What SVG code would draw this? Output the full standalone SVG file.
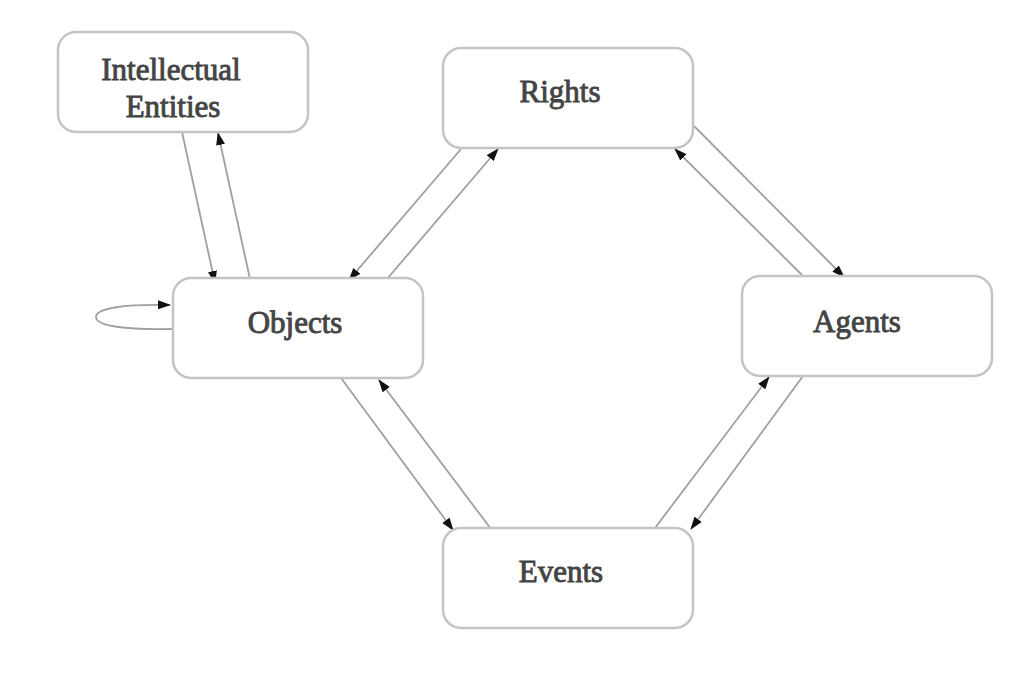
<svg xmlns="http://www.w3.org/2000/svg" width="1034" height="679" viewBox="0 0 1034 679">
  <defs>
    <marker id="arrow" markerWidth="13" markerHeight="10" refX="12" refY="5" orient="auto" markerUnits="userSpaceOnUse">
      <path d="M0,0.5 L13,5 L0,9.5 z" fill="#111"/>
    </marker>
    <style>
      .node rect { fill: #fff; stroke: #c4c4c4; stroke-width: 2.5; }
      .node text { font-family: "Liberation Serif", "Times New Roman", serif; font-size: 31px; fill: #444; stroke: #444; stroke-width: 0.9; text-anchor: middle; }
      .edge { fill: none; stroke: #a0a0a0; stroke-width: 1.8; marker-end: url(#arrow); }
    </style>
  </defs>
  <rect width="1034" height="679" fill="#fff"/>

  <g id="connectors">
    <!-- Intellectual Entities <-> Objects -->
    <line class="edge" x1="182" y1="132" x2="215" y2="283"/>
    <line class="edge" x1="250" y1="279" x2="218" y2="133"/>
    <!-- Rights <-> Objects -->
    <line class="edge" x1="461" y1="149" x2="349" y2="280"/>
    <line class="edge" x1="387" y1="279" x2="498" y2="149"/>
    <!-- Rights <-> Agents -->
    <line class="edge" x1="694" y1="126" x2="844" y2="277"/>
    <line class="edge" x1="802" y1="275" x2="675" y2="149"/>
    <!-- Objects <-> Events -->
    <line class="edge" x1="341" y1="378" x2="453" y2="530"/>
    <line class="edge" x1="491" y1="529" x2="379" y2="380"/>
    <!-- Events <-> Agents -->
    <line class="edge" x1="655" y1="528" x2="769" y2="377"/>
    <line class="edge" x1="803" y1="376" x2="691" y2="529"/>
    <!-- Objects self-loop -->
    <path class="edge" d="M173,329 C125,330 96,326 96,317 C96,308 125,304 170,305"/>
  </g>

  <g id="intellectual-entities" class="node">
    <rect x="58" y="32" width="250" height="100" rx="18"/>
    <text x="171" y="80">Intellectual</text>
    <text x="173" y="117">Entities</text>
  </g>
  <g id="rights" class="node">
    <rect x="443" y="48" width="250" height="100" rx="18"/>
    <text x="560" y="102">Rights</text>
  </g>
  <g id="objects" class="node">
    <rect x="173" y="278" width="250" height="100" rx="18"/>
    <text x="295" y="333">Objects</text>
  </g>
  <g id="agents" class="node">
    <rect x="742" y="276" width="250" height="100" rx="18"/>
    <text x="857" y="332">Agents</text>
  </g>
  <g id="events" class="node">
    <rect x="443" y="528" width="250" height="100" rx="18"/>
    <text x="561" y="582">Events</text>
  </g>
</svg>
